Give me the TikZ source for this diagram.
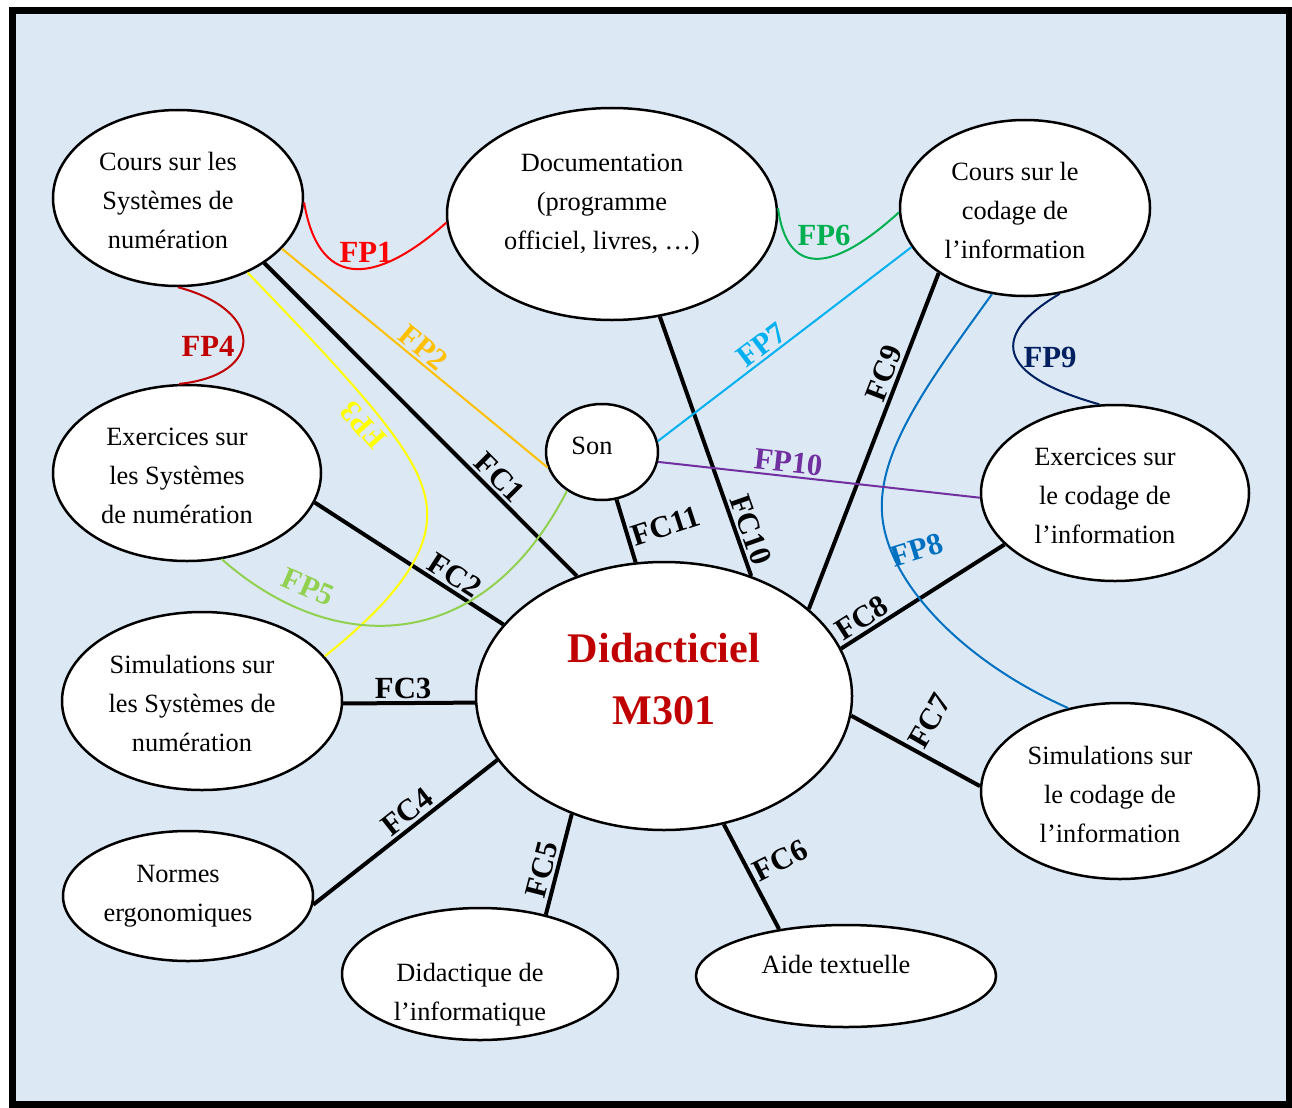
\documentclass[tikz,border=0pt]{standalone}
\usepackage{fontspec}
\setmainfont{Liberation Serif}
\usetikzlibrary{shapes.geometric}

\definecolor{bgblue}{RGB}{221,232,245}
\definecolor{didred}{HTML}{C00000}
\definecolor{fpred}{HTML}{FF0000}
\definecolor{fporange}{HTML}{FFC000}
\definecolor{fpyellow}{HTML}{FFFF00}
\definecolor{fpdarkred}{HTML}{C00000}
\definecolor{fplightgreen}{HTML}{92D050}
\definecolor{fpgreen}{HTML}{00B050}
\definecolor{fplightblue}{HTML}{00B0F0}
\definecolor{fpblue}{HTML}{0070C0}
\definecolor{fpnavy}{HTML}{002060}
\definecolor{fppurple}{HTML}{7030A0}

\begin{document}
\begin{tikzpicture}[x=0.2mm, y=-0.2mm,
  ell/.style={ellipse, draw, fill=white, line width=0.5mm, inner sep=0pt},
  txt/.style={align=center, font=\fontsize{15}{22.2}\selectfont},
  fc/.style={line width=0.8mm},
  fp/.style={line width=0.4mm},
  lbl/.style={font=\fontsize{17.5}{20}\selectfont\bfseries, inner sep=1.5pt}]

  \useasboundingbox (0,0) rectangle (1292,1107);
  \draw[line width=1.4mm, fill=bgblue] (12,11) rectangle (1289,1104);

  % les sous-modules
  \node[ell, minimum width=50mm, minimum height=35.2mm, label={[txt, xshift=-2mm, yshift=-0.5mm]center:{Cours sur les\\Systèmes de\\numération}}] (csn) at (178,198) {};
  \node[ell, minimum width=66mm, minimum height=42.4mm, label={[txt, xshift=-2mm, yshift=1.8mm]center:{Documentation\\(programme\\officiel, livres, …)}}] (doc) at (612,214) {};
  \node[ell, minimum width=50mm, minimum height=35.2mm, label={[txt, xshift=-2mm, yshift=-0.4mm]center:{Cours sur le\\codage de\\l’information}}] (ccod) at (1025,208) {};
  \node[ell, minimum width=53.6mm, minimum height=35.2mm, label={[txt, xshift=-2mm, yshift=-0.6mm]center:{Exercices sur\\les Systèmes\\de numération}}] (exsn) at (187,473) {};
  \node[ell, minimum width=22.4mm, minimum height=19.2mm, label={[txt, xshift=-2mm, yshift=1.2mm]center:Son}] (son) at (602,452) {};
  \node[ell, minimum width=53.6mm, minimum height=35.2mm, label={[txt, xshift=-2mm, yshift=-0.6mm]center:{Exercices sur\\le codage de\\l’information}}] (excod) at (1115,493) {};
  \node[ell, minimum width=75.2mm, minimum height=53.6mm, label={[txt, yshift=3.4mm, font=\fontsize{24}{35}\selectfont\bfseries, text=didred]center:{Didacticiel\\M301}}] (didac) at (664,696) {};
  \node[ell, minimum width=56mm, minimum height=35.6mm, label={[txt, xshift=-2mm, yshift=-0.4mm]center:{Simulations sur\\les Systèmes de\\numération}}] (simsn) at (202,701) {};
  \node[ell, minimum width=55.6mm, minimum height=35.2mm, label={[txt, xshift=-2mm, yshift=-0.6mm]center:{Simulations sur\\le codage de\\l’information}}] (simcod) at (1120,791) {};
  \node[ell, minimum width=50mm, minimum height=26mm, label={[txt, xshift=-2mm]center:{Normes\\ergonomiques}}] (normes) at (188,896) {};
  \node[ell, minimum width=55.2mm, minimum height=26.4mm, label={[txt, xshift=-2mm, yshift=-4.2mm]center:{Didactique de\\l’informatique}}] (didinfo) at (480,974) {};
  \node[ell, minimum width=60mm, minimum height=20.4mm, label={[txt, xshift=-2mm, yshift=2.4mm]center:Aide textuelle}] (aide) at (846,976) {};

  % fonctions contraintes
  \path (csn.-37) [fc] edge node[lbl, pos=.72, above, sloped] {FC1} (didac.126);
  \path (exsn.-13) [fc] edge node[lbl, pos=.70, above, sloped] {FC2} (didac.156);
  \path (simsn.-1) [fc] edge node[lbl, pos=.455, above] {FC3} (didac.182);
  \path (normes.-4) [fc] edge node[lbl, pos=.56, above, sloped] {FC4} (didac.201);
  \path (didinfo.42) [fc] edge node[lbl, pos=.41, above, sloped] {FC5} (didac.232);
  \path (aide.145) [fc] edge node[lbl, pos=.51, rotate=27, anchor=west] {FC6} (didac.-65);
  \path (simcod.178) [fc] edge node[lbl, pos=.52, rotate=60, anchor=west] {FC7} (didac.-6);
  \path (didac.15) [fc] edge node[lbl, pos=.175, above, sloped] {FC8} (excod.205);
  \path (didac.31) [fc] edge node[lbl, pos=.686, above, sloped] {FC9} (ccod.217);
  \path (doc.-65) [fc] edge node[lbl, pos=.84, above, sloped] {FC10} (didac.54);
  \path (son.-73) [fc] edge node[lbl, pos=.62, rotate=18, anchor=west] {FC11} (didac.102);

  % fonctions principales
  \draw[fp, fpred] (csn.-2) .. controls (318,285) and (370,290) .. (doc.183);
  \node[lbl, fpred] (fp1) at (366,252) {FP1};
  \path (csn.-26) [fp, fporange] edge node[lbl, pos=.5, above, sloped] {FP2} (son.196);
  \draw[fp, fpyellow] (csn.-47) .. controls (390,420) and (430,470) .. (427,520) .. controls (424,570) and (370,620) .. (simsn.20);
  \node[lbl, fpyellow, rotate=132] (fp3) at (363,425) {FP3};
  \draw[fp, fpdarkred] (csn.-90) .. controls (265,310) and (265,375) .. (exsn.95);
  \node[lbl, fpdarkred] (fp4) at (208,346) {FP4};
  \draw[fp, fplightgreen] (exsn.-68) .. controls (330,655) and (480,660) .. (son.228);
  \node[lbl, fplightgreen, rotate=-23] (fp5) at (308,587) {FP5};
  \draw[fp, fpgreen] (doc.2) .. controls (787,275) and (830,275) .. (ccod.182);
  \node[lbl, fpgreen] (fp6) at (824,235) {FP6};
  \path (son.11) [fp, fplightblue] edge node[lbl, pos=.44, above, sloped] {FP7} (ccod.199);
  \draw[fp, fpblue] (ccod.249) .. controls (930,380) and (878,450) .. (882,513) .. controls (886,580) and (960,660) .. (simcod.122);
  \node[lbl, fpblue, rotate=17] (fp8) at (917,550) {FP8};
  \draw[fp, fpnavy] (ccod.-68) .. controls (990,335) and (995,375) .. (excod.100);
  \node[lbl, fpnavy] (fp9) at (1050,357) {FP9};
  \path (son.-10) [fp, fppurple] edge node[lbl, pos=.4, above, sloped] {FP10} (excod.182);
\end{tikzpicture}
\end{document}
